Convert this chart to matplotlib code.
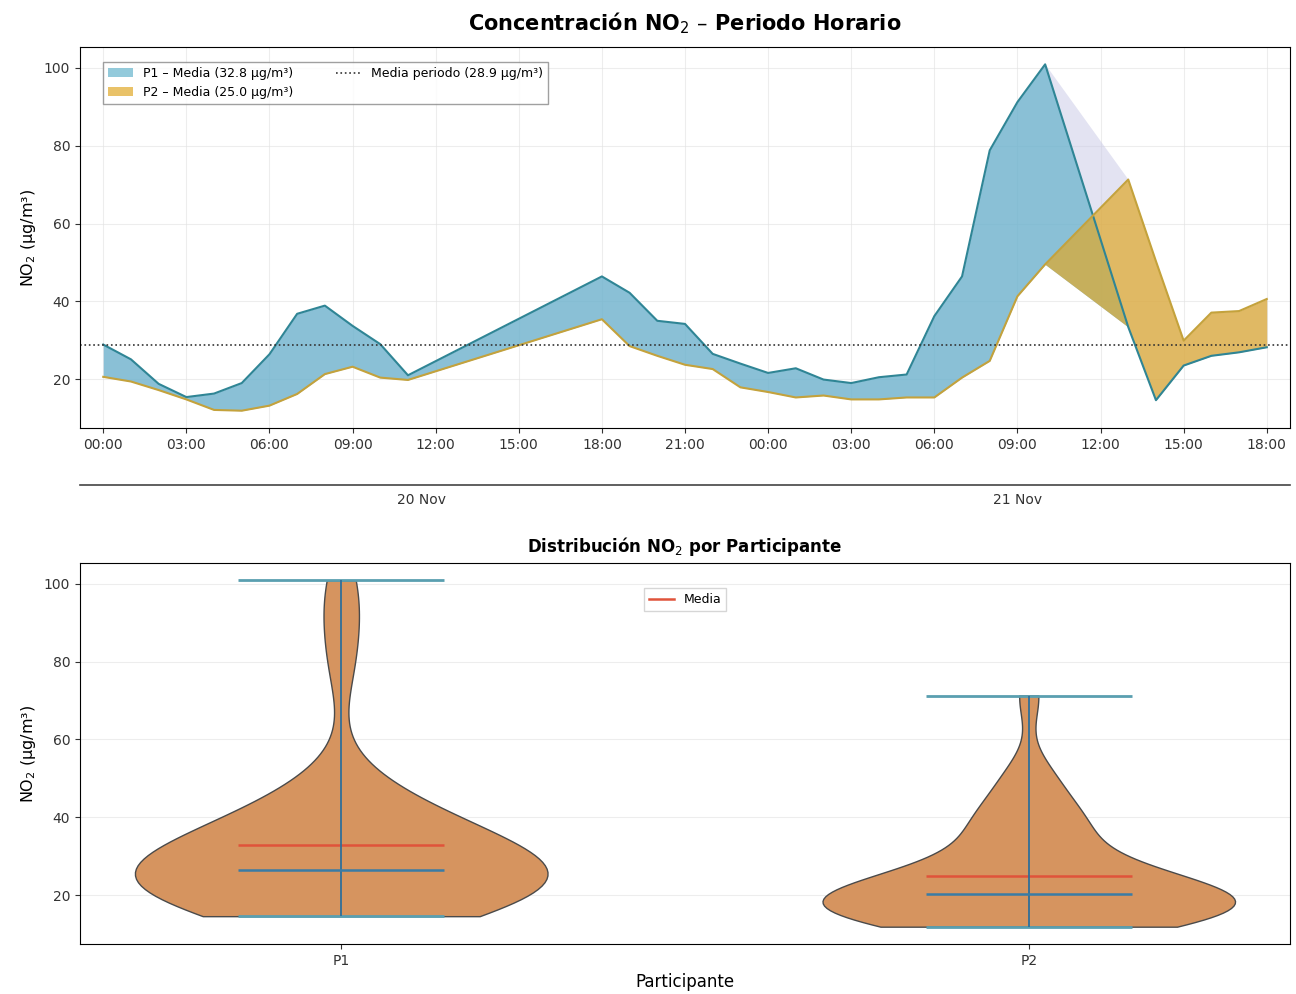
import numpy as np
import pandas as pd
import matplotlib
matplotlib.use("Agg")
import matplotlib.pyplot as plt
import matplotlib.dates as mdates
from matplotlib.lines import Line2D

# Hourly NO2 readings (hours counted from 20 Nov 00:00; gaps = no reading)
hour_offsets = [0, 1, 2, 3, 4, 5, 6, 7, 8, 9, 10, 11,
                18, 19, 20, 21, 22, 23,
                24, 25, 26, 27, 28, 29, 30, 31, 32, 33, 34,
                37, 38, 39, 40, 41, 42]
p1_no2 = [28.9, 25.1, 18.8, 15.4, 16.3, 19.0, 26.4, 36.8, 38.9, 33.7, 29.0, 21.0,
          46.4, 42.2, 35.0, 34.2, 26.5, 24.0,
          21.6, 22.8, 19.9, 19.0, 20.5, 21.2, 36.2, 46.4, 78.8, 91.2, 100.9,
          33.4, 14.6, 23.5, 26.0, 26.9, 28.2]
p2_no2 = [20.6, 19.4, 17.2, 14.8, 12.1, 11.9, 13.2, 16.2, 21.3, 23.2, 20.4, 19.8,
          35.4, 28.5, 26.0, 23.7, 22.6, 17.9,
          16.7, 15.3, 15.8, 14.8, 14.8, 15.3, 15.3, 20.4, 24.7, 41.3, 49.5,
          71.3, 50.3, 29.9, 37.1, 37.5, 40.6]
participants = ["P1", "P2"]
day_labels = ["20 Nov", "21 Nov"]

start = pd.Timestamp("2024-11-20 00:00")
times = start + pd.to_timedelta(hour_offsets, unit="h")
x = mdates.date2num(times.to_pydatetime())
p1 = np.array(p1_no2)
p2 = np.array(p2_no2)
low = np.minimum(p1, p2)
high = np.maximum(p1, p2)

mean_p1 = p1.mean()
mean_p2 = p2.mean()
mean_all = np.concatenate([p1, p2]).mean()

c_p1_fill = "#5aaec8"
c_p2_fill = "#e0a828"
c_p1_line = "#2f8595"
c_p2_line = "#c4a23c"
c_range = "#c8c8e6"

fig = plt.figure(figsize=(12.96, 9.94), dpi=100)
ax = fig.add_axes([0.0617, 0.5694, 0.9337, 0.3833])
ax2 = fig.add_axes([0.0617, 0.0503, 0.9337, 0.3833])

# ---- top panel: hourly series ----
ax.fill_between(x, low, high, color=c_range, alpha=0.5, lw=0)
ax.fill_between(x, low, p1, color=c_p1_fill, alpha=0.65, lw=0,
                label=f"P1 – Media ({mean_p1:.1f} μg/m³)")
ax.fill_between(x, low, p2, color=c_p2_fill, alpha=0.7, lw=0,
                label=f"P2 – Media ({mean_p2:.1f} μg/m³)")
ax.plot(x, p1, color=c_p1_line, lw=1.5)
ax.plot(x, p2, color=c_p2_line, lw=1.5)
ax.axhline(mean_all, color="#333333", ls=":", lw=1.2,
           label=f"Media periodo ({mean_all:.1f} μg/m³)")

ax.margins(x=0.02)
ax.xaxis.set_major_locator(mdates.HourLocator(byhour=range(0, 24, 3)))
ax.xaxis.set_major_formatter(mdates.DateFormatter("%H:%M"))
ax.tick_params(labelsize=10, colors="#333333")
ax.grid(True, color="#e2e2e2", lw=0.8, alpha=0.6)
ax.set_axisbelow(True)
ax.set_ylabel("NO$_2$ (μg/m³)", fontsize=11.5)
ax.set_title("Concentración NO$_2$ – Periodo Horario", fontsize=15,
             fontweight="bold", pad=12)
ax.legend(loc="upper left", bbox_to_anchor=(0.019, 0.961), borderaxespad=0,
          ncol=2, fontsize=9, frameon=True, edgecolor="#888888",
          fancybox=False, columnspacing=3.4)

# day labels on a secondary axis below the hour ticks
day_mid = []
for d in range(2):
    sel = x[(np.array(hour_offsets) // 24) == d]
    day_mid.append((sel.min() + sel.max()) / 2)
sec = ax.secondary_xaxis(-0.15)
sec.set_xticks(day_mid)
sec.set_xticklabels(day_labels)
sec.tick_params(length=0, labelsize=10, colors="#333333", pad=6)
sec.spines["bottom"].set_color("#444444")
sec.spines["bottom"].set_linewidth(1.2)

# ---- bottom panel: distribution per participant ----
vp = ax2.violinplot([p1, p2], positions=[1, 2], widths=0.6,
                    showmeans=True, showmedians=True, showextrema=True)
for body in vp["bodies"]:
    body.set_facecolor("#d6945f")
    body.set_edgecolor("#4a4a4a")
    body.set_linewidth(1.0)
    body.set_alpha(1.0)
vp["cbars"].set_color("#2f6f99")
vp["cbars"].set_linewidth(1.3)
for key in ("cmaxes", "cmins"):
    vp[key].set_color("#5a9fb0")
    vp[key].set_linewidth(2.0)
vp["cmedians"].set_color("#3a7ca5")
vp["cmedians"].set_linewidth(1.8)
vp["cmeans"].set_color("#e0533a")
vp["cmeans"].set_linewidth(1.8)

ax2.set_xticks([1, 2])
ax2.set_xticklabels(participants)
ax2.tick_params(labelsize=10, colors="#333333")
ax2.grid(True, axis="y", color="#e2e2e2", lw=0.8, alpha=0.6)
ax2.set_axisbelow(True)
ax2.set_ylabel("NO$_2$ (μg/m³)", fontsize=11.5)
ax2.set_xlabel("Participante", fontsize=12)
ax2.set_title("Distribución NO$_2$ por Participante", fontsize=12,
              fontweight="bold", pad=8)
ax2.legend(handles=[Line2D([], [], color="#e0533a", lw=1.8, label="Media")],
           loc="upper center", bbox_to_anchor=(0.5, 0.934), borderaxespad=0,
           fontsize=9, fancybox=False, edgecolor="#cccccc")

fig.savefig("out.png", dpi=100)
